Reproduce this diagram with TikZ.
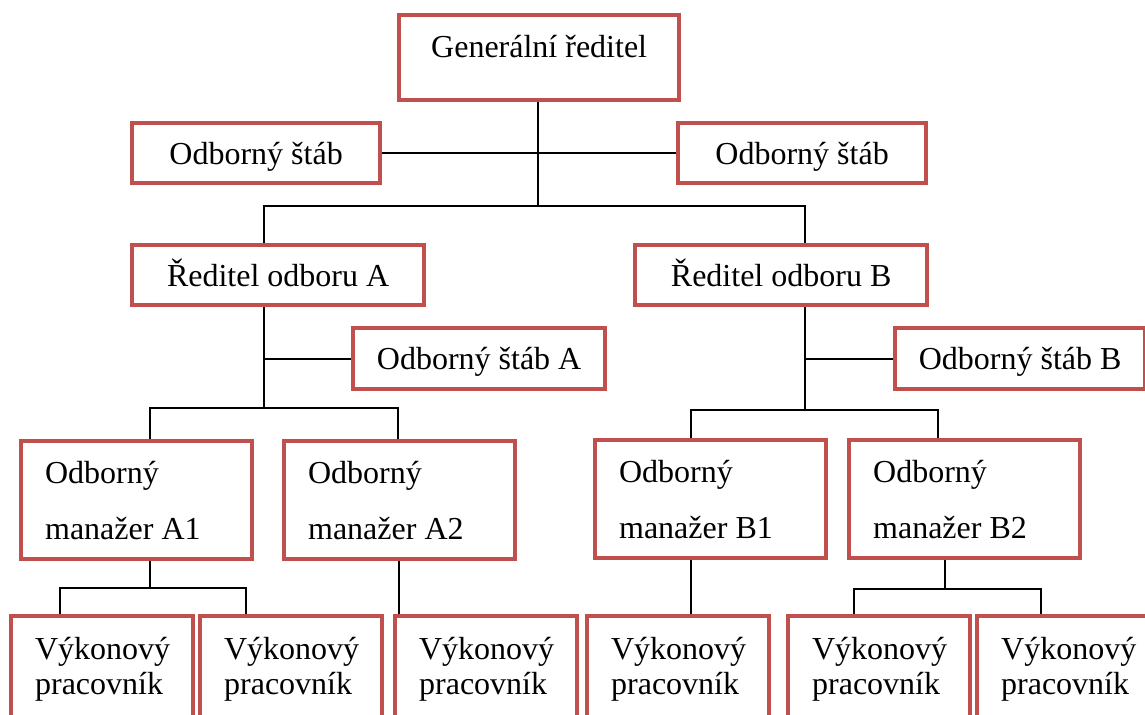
\documentclass[tikz,border=0pt]{standalone}
\usepackage{fontspec}
\setmainfont{Liberation Serif}
\usetikzlibrary{backgrounds}
\definecolor{boxred}{HTML}{C0504D}
\tikzset{
  orgbox/.style={draw=boxred, line width=1.6pt, rectangle, inner sep=0pt,
    anchor=north west, font=\fontsize{12pt}{14pt}\selectfont},
  onerow/.style={orgbox, text height=8.3pt, text depth=0pt},
  tworow/.style={orgbox, align=left, inner xsep=9pt,
    execute at begin node={\spaceskip=0pt\xspaceskip=0pt\relax}},
  manager/.style={tworow, text width=68.6pt, minimum height=44.25pt,
    font=\fontsize{12pt}{21pt}\selectfont},
  worker/.style={tworow, text width=50.25pt, minimum height=39.75pt,
    font=\fontsize{12pt}{13.1pt}\selectfont},
  link/.style={draw=black, line width=0.75pt},
}
% centred one-line box: name, left, top, right, bottom, text (pixel units)
\newcommand\ctrbox[6]{%
  \node[onerow, minimum width={(#4-#2)*0.375pt},
        minimum height={(#5-#3)*0.375pt}] (#1) at (#2,#3) {#6};}
\begin{document}
\begin{tikzpicture}[x=0.375pt,y=-0.375pt]
\useasboundingbox (0,0) rectangle (1145,715);

% top management
\node[orgbox, text height=8.3pt, text depth=8.3pt,
      minimum width={280*0.375pt}, minimum height={85*0.375pt}]
  (gen) at (397,13) {Generální ředitel};
\ctrbox{stL}{130}{121}{378}{181}{Odborný štáb}
\ctrbox{stR}{676}{121}{924}{181}{Odborný štáb}

% divisions
\ctrbox{dirA}{130}{243}{422}{303}{Ředitel odboru A}
\ctrbox{dirB}{633}{243}{925}{303}{Ředitel odboru B}
\ctrbox{stA}{351}{326}{603}{387}{Odborný štáb A}
\ctrbox{stB}{893}{326}{1143}{387}{Odborný štáb B}

% managers
\node[manager] (mA1) at (19,439)  {Odborný\\manažer A1};
\node[manager] (mA2) at (282,439) {Odborný\\manažer A2};
\node[manager] (mB1) at (593,438) {Odborný\\manažer B1};
\node[manager] (mB2) at (847,438) {Odborný\\manažer B2};

% workers
\node[worker] (w1) at (9,614)   {Výkonový\\pracovník};
\node[worker] (w2) at (198,614) {Výkonový\\pracovník};
\node[worker] (w3) at (393,614) {Výkonový\\pracovník};
\node[worker] (w4) at (585,614) {Výkonový\\pracovník};
\node[worker] (w5) at (786,614) {Výkonový\\pracovník};
\node[worker] (w6) at (975,614) {Výkonový\\pracovník};

% junction points of the connectors
\coordinate (top) at (538,206);
\coordinate (xa)  at (264,206);
\coordinate (xb)  at (805,206);
\coordinate (ya)  at (264,408);
\coordinate (ya1) at (150,408);
\coordinate (ya2) at (398,408);
\coordinate (yb)  at (805,410);
\coordinate (yb1) at (691,410);
\coordinate (yb2) at (938,410);
\coordinate (wa)  at (150,588);
\coordinate (wa1) at (60,588);
\coordinate (wa2) at (246,588);
\coordinate (wa3) at (399,600);
\coordinate (wb3) at (691,600);
\coordinate (wb)  at (945,589);
\coordinate (wb1) at (854,589);
\coordinate (wb2) at (1041,589);

\begin{scope}[on background layer]
  \draw[link] (gen.south -| top) -- (top);
  \draw[link] (stL.east) -- (stR.west);
  \draw[link] (dirA.north -| xa) -- (xa) -- (xb) -- (dirB.north -| xb);

  \draw[link] (dirA.south -| ya) -- (ya);
  \draw[link] (stA.west) -- (stA.west -| ya);
  \draw[link] (mA1.north -| ya1) -- (ya1) -- (ya2) -- (mA2.north -| ya2);

  \draw[link] (dirB.south -| yb) -- (yb);
  \draw[link] (stB.west) -- (stB.west -| yb);
  \draw[link] (mB1.north -| yb1) -- (yb1) -- (yb2) -- (mB2.north -| yb2);

  \draw[link] (mA1.south -| wa) -- (wa);
  \draw[link] (w1.north -| wa1) -- (wa1) -- (wa2) -- (w2.north -| wa2);
  \draw[link] (mA2.south -| wa3) -- (w3.north -| wa3);
  \draw[link] (mB1.south -| wb3) -- (w4.north -| wb3);
  \draw[link] (mB2.south -| wb) -- (wb);
  \draw[link] (w5.north -| wb1) -- (wb1) -- (wb2) -- (w6.north -| wb2);
\end{scope}
\end{tikzpicture}
\end{document}
